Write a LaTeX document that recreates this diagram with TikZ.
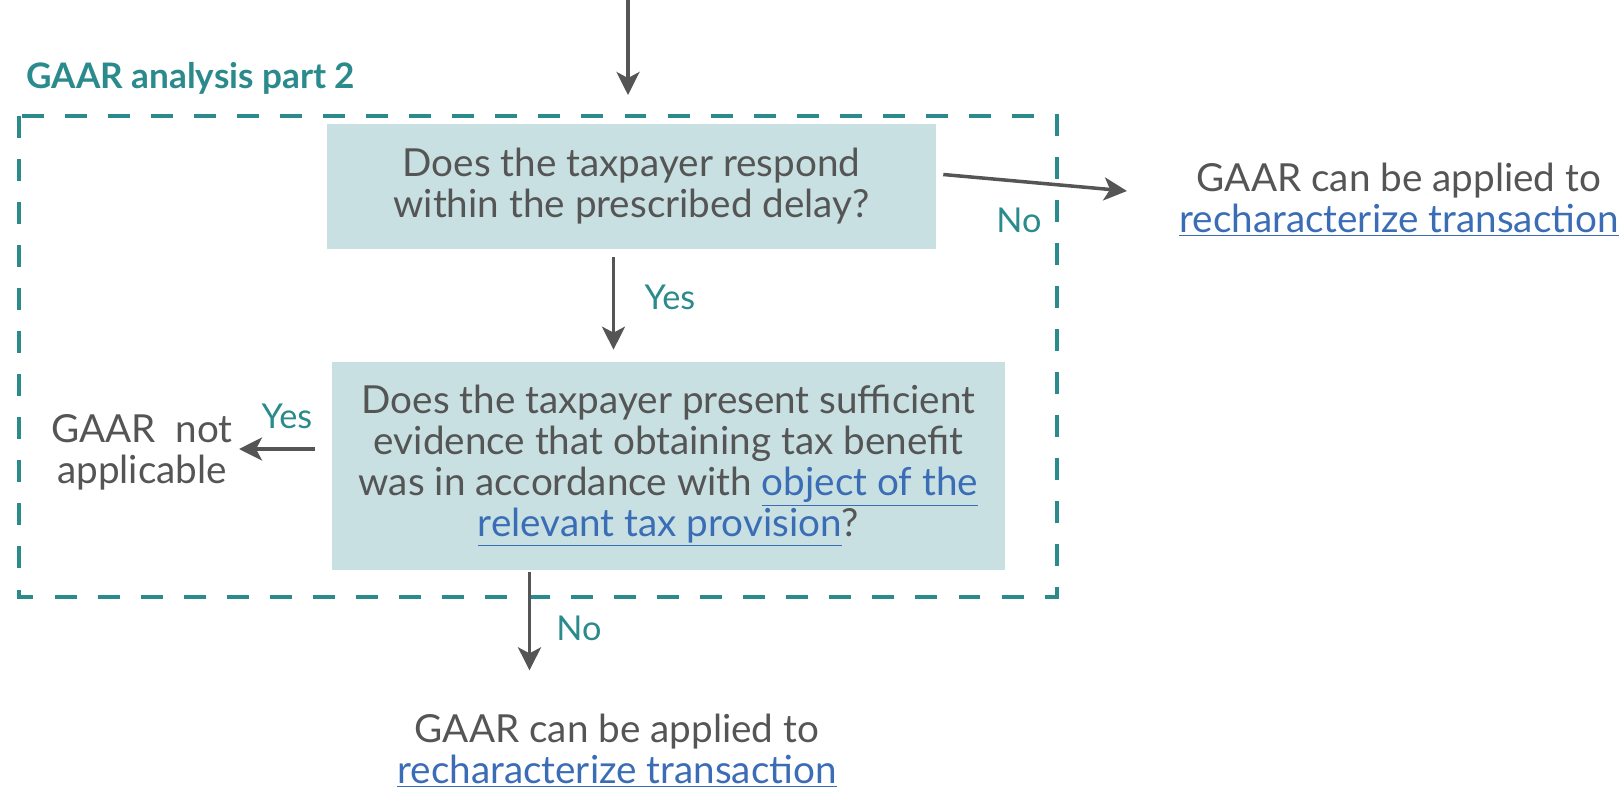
\documentclass[tikz,border=0pt]{standalone}
\usepackage{fontspec}
\setmainfont{Lato}
\usetikzlibrary{arrows.meta}

\definecolor{gaarteal}{HTML}{2A8A8C}
\definecolor{qfill}{HTML}{C8E0E2}
\definecolor{txtgray}{HTML}{555555}
\definecolor{linkblue}{HTML}{3A6DB5}
\newcommand{\lnk}[1]{\textcolor{linkblue}{\underline{#1}}}

\tikzset{
  question/.style={fill=qfill, text=txtgray, align=center, inner sep=0pt,
    font=\fontsize{22}{23.3}\selectfont},
  outcome/.style={text=txtgray, align=center, inner sep=0pt,
    font=\fontsize{22}{23.3}\selectfont},
  answer/.style={text=gaarteal, inner sep=0pt, font=\fontsize{19.5}{22}\selectfont},
  arr/.style={draw=txtgray, line width=2pt,
    -{Stealth[length=4.6mm,width=4.6mm,inset=1.2mm]}},
}

\begin{document}
\begin{tikzpicture}[x=0.02cm,y=-0.02cm]
        \useasboundingbox (0,0) rectangle (1622,789);

        % part 2 frame
        \draw[gaarteal, line width=2.8pt, dash pattern=on 12.5pt off 12pt] (19,116) rectangle (1057,597);
        \node[anchor=base west, text=gaarteal, inner sep=0pt, font=\fontsize{20}{22}\selectfont\bfseries] (title) at (26,88) {GAAR analysis part 2};

        \node[question, minimum width=12.18cm, minimum height=2.5cm] (q1) at (631.5,186.5)
            {Does the taxpayer respond\\within the prescribed delay?};
        \node[question, minimum width=13.46cm, minimum height=4.16cm] (q2) at (668.5,466)
            {Does the taxpayer present sufficient\\evidence that obtaining tax benefit\\was in accordance with \lnk{object of the}\\\lnk{relevant tax provision}?};

        \node[outcome] (apply1) at (1399,200) {GAAR can be applied to\\\lnk{recharacterize transaction}};
        \node[outcome] (notapp) at (142,452) {GAAR\ \ not\\applicable};
        \node[outcome] (apply2) at (617,751) {GAAR can be applied to\\\lnk{recharacterize transaction}};

        \coordinate (in) at (628,0);
        \coordinate (in2) at (628,95);
        \draw[arr] (in) -- (in2);
        \draw[arr] ([shift={(7,-12)}]q1.east) -- ([shift={(-52,-9)}]apply1.west);
        \draw[arr] ([shift={(-18,8)}]q1.south) -- ([shift={(-55,-12)}]q2.north);
        \draw[arr] ([shift={(-17,-17)}]q2.west) -- ([shift={(6,-3)}]notapp.east);
        \draw[arr] ([shift={(-139,2)}]q2.south) -- ([shift={(-139,100)}]q2.south);

        \node[answer] (no1) at (1019,220) {No};
        \node[answer] (yes1) at (670,297) {Yes};
        \node[answer] (yes2) at (287,416) {Yes};
        \node[answer] (no2) at (579,628) {No};

    \end{tikzpicture}
\end{document}
